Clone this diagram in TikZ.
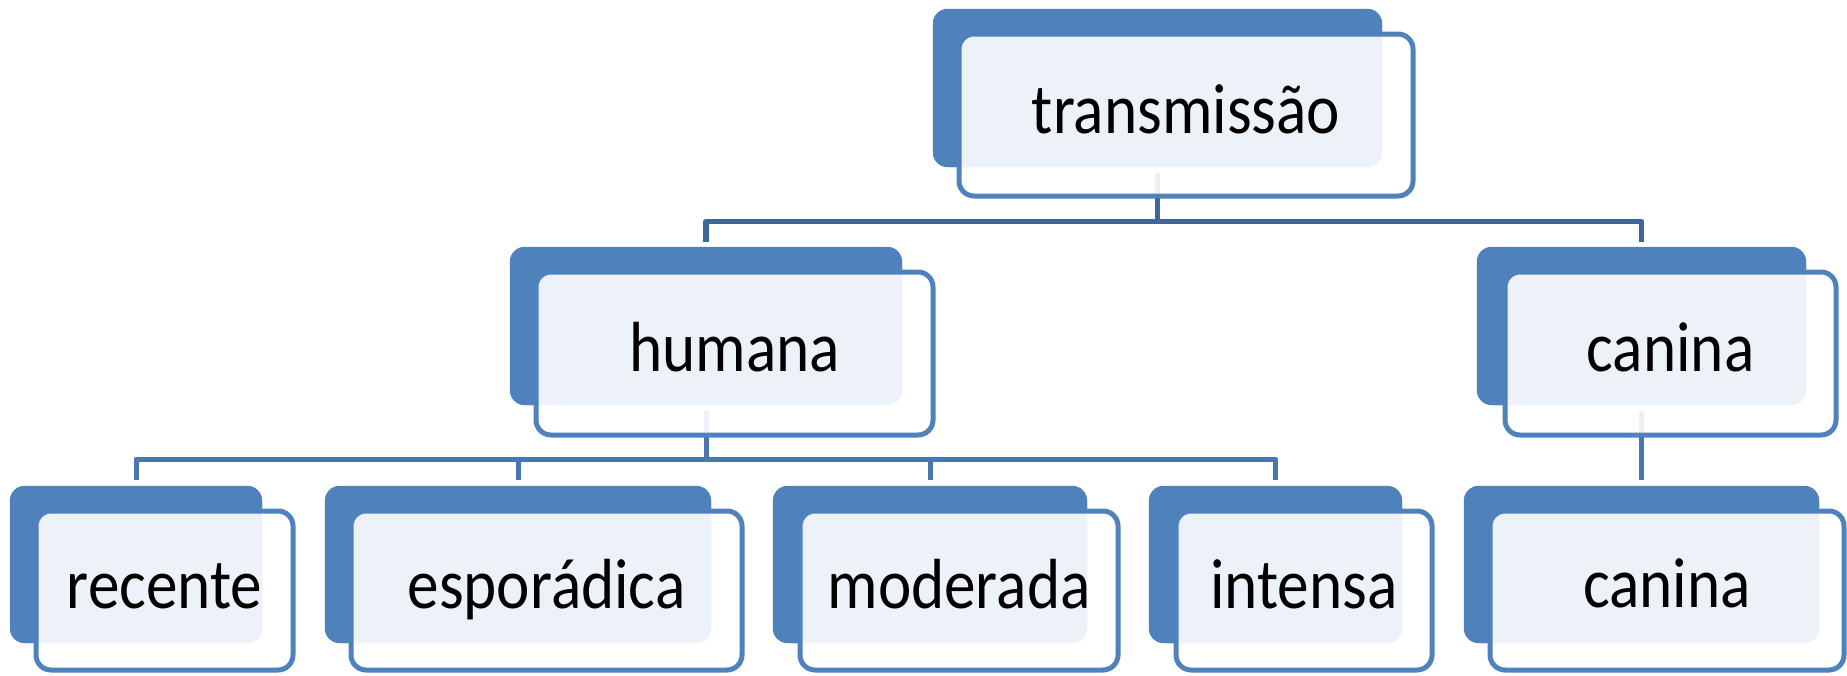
\documentclass[tikz,border=0pt]{standalone}
\usepackage{fontspec}
\setmainfont{Carlito}[FakeStretch=0.89]
\definecolor{accent}{HTML}{4F81BD}
\definecolor{busdark}{HTML}{3E6799}
\definecolor{buslight}{HTML}{4876AF}
\tikzset{
  backbox/.style={rectangle, rounded corners=15pt, fill=accent, draw=none, inner sep=0pt},
  frontbox/.style={rectangle, rounded corners=15pt, draw=accent, line width=5pt,
    fill=white, fill opacity=0.9, draw opacity=1, inner sep=0pt},
  lbl/.style={anchor=base, inner sep=0pt, text=black,
    font=\fontsize{71pt}{80pt}\selectfont},
  topconn/.style={draw=busdark, line width=5.5pt, line join=round},
  lowconn/.style={draw=buslight, line width=5pt, line join=round},
}
\begin{document}
\begin{tikzpicture}[x=1pt, y=-1pt]
\useasboundingbox (0,0) rectangle (1847,675);

% back panels
\node[backbox, minimum width=449pt, minimum height=158pt] (tB) at (1157.5,88) {};
\node[backbox, minimum width=392pt, minimum height=158pt] (hB) at (706,326) {};
\node[backbox, minimum width=329pt, minimum height=158pt] (cB) at (1641.5,326) {};
\node[backbox, minimum width=252pt, minimum height=157pt] (rB) at (136,564.5) {};
\node[backbox, minimum width=386pt, minimum height=157pt] (eB) at (518,564.5) {};
\node[backbox, minimum width=314pt, minimum height=157pt] (mB) at (930,564.5) {};
\node[backbox, minimum width=253pt, minimum height=157pt] (iB) at (1275.5,564.5) {};
\node[backbox, minimum width=355pt, minimum height=157pt] (kB) at (1641.5,564.5) {};

% bus levels
\coordinate (bus1) at (0,221.5);
\coordinate (bus2) at (0,459);

% connectors
\draw[topconn] ([yshift=-6pt]tB.south) -- (tB.south |- bus1);
\draw[topconn] ([yshift=5pt]hB.north) |- (bus1 -| cB.north) -- ([yshift=5pt]cB.north);
\draw[lowconn] ([yshift=-6pt]hB.south) -- (hB.south |- bus2);
\draw[lowconn] ([yshift=6pt]rB.north) |- (bus2 -| iB.north) -- ([yshift=6pt]iB.north);
\draw[lowconn] ([yshift=6pt]eB.north) -- (eB.north |- bus2);
\draw[lowconn] ([yshift=6pt]mB.north) -- (mB.north |- bus2);
\draw[lowconn] ([yshift=-6pt]cB.south) -- ([yshift=6pt]kB.north);

% back panels painted again so the connectors stay underneath
\foreach \b in {tB,hB,cB,rB,eB,mB,iB,kB}{
  \fill[accent, rounded corners=15pt] (\b.south west) rectangle (\b.north east);
}

% front panels
\node[frontbox, minimum width=454pt, minimum height=162pt] (tF) at (1186,115) {};
\node[frontbox, minimum width=397pt, minimum height=163pt] (hF) at (734.5,353.5) {};
\node[frontbox, minimum width=331pt, minimum height=163pt] (cF) at (1670.5,353.5) {};
\node[frontbox, minimum width=257pt, minimum height=159pt] (rF) at (164.5,590.5) {};
\node[frontbox, minimum width=391pt, minimum height=159pt] (eF) at (546.5,590.5) {};
\node[frontbox, minimum width=318pt, minimum height=159pt] (mF) at (959,590.5) {};
\node[frontbox, minimum width=256pt, minimum height=159pt] (iF) at (1304,590.5) {};
\node[frontbox, minimum width=354pt, minimum height=159pt] (kF) at (1667,590.5) {};

% labels
\node[lbl] (tL) at ([yshift=-18pt]tF.center) {transmissão};
\node[lbl] (hL) at ([yshift=-18pt]hF.center) {humana};
\node[lbl] (cL) at ([yshift=-18pt]cF.center) {canina};
\node[lbl] (rL) at ([yshift=-17.5pt]rF.center) {recente};
\node[lbl] (eL) at ([yshift=-17.5pt]eF.center) {esporádica};
\node[lbl] (mL) at ([yshift=-17.5pt]mF.center) {moderada};
\node[lbl] (iL) at ([yshift=-17.5pt]iF.center) {intensa};
\node[lbl] (kL) at ([yshift=-17pt]kF.center) {canina};
\end{tikzpicture}
\end{document}
